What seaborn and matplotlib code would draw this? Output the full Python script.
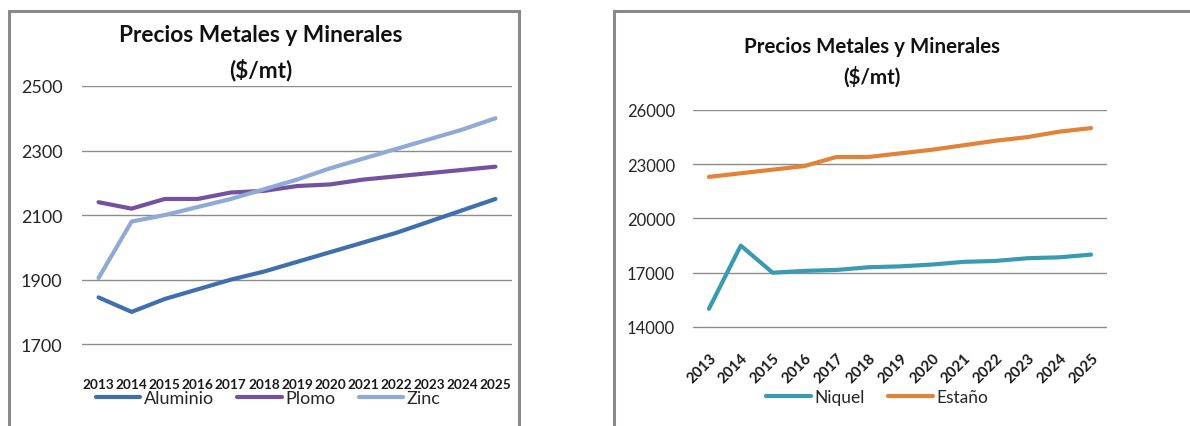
import matplotlib
matplotlib.use("Agg")
import matplotlib.pyplot as plt
from matplotlib.patches import Rectangle
from matplotlib.lines import Line2D
import seaborn as sns
import pandas as pd

years = [2013, 2014, 2015, 2016, 2017, 2018, 2019, 2020, 2021, 2022, 2023, 2024, 2025]

aluminio = [1845, 1800, 1840, 1870, 1900, 1925, 1955, 1985, 2015, 2045, 2080, 2115, 2150]
plomo = [2140, 2120, 2150, 2150, 2170, 2175, 2190, 2195, 2210, 2220, 2230, 2240, 2250]
zinc = [1905, 2080, 2100, 2125, 2150, 2180, 2210, 2245, 2275, 2305, 2335, 2365, 2400]

niquel = [15000, 18500, 17000, 17100, 17150, 17300, 17350, 17450, 17600, 17650, 17800, 17850, 18000]
estano = [22300, 22500, 22700, 22900, 23400, 23400, 23600, 23800, 24050, 24300, 24500, 24800, 25000]

left_ticks = [1700, 1900, 2100, 2300, 2500]
right_ticks = [14000, 17000, 20000, 23000, 26000]

title_text = "Precios Metales y Minerales"
unit_text = "($/mt)"

sns.set_theme(style="white")
plt.rcParams["font.family"] = ["Lato", "DejaVu Sans"]

colors_left = {"Aluminio": "#3F6FAE", "Plomo": "#7452A0", "Zinc": "#90AAD6"}
colors_right = {"Niquel": "#3A9AB2", "Estaño": "#E2833A"}

def long_frame(series):
    rows = []
    for name, vals in series.items():
        for i, (yr, v) in enumerate(zip(years, vals)):
            rows.append({"pos": i, "year": str(yr), "serie": name, "valor": v})
    return pd.DataFrame(rows)

df_left = long_frame({"Aluminio": aluminio, "Plomo": plomo, "Zinc": zinc})
df_right = long_frame({"Niquel": niquel, "Estaño": estano})

fig = plt.figure(figsize=(11.9, 4.27), dpi=100)

# panel frames
W, H = 1190, 427
border = "#8A8A8A"
fig.patches.append(Rectangle((9 / W, -0.1), (519 - 9) / W, 1 - 12 / H + 0.1,
                             transform=fig.transFigure, fill=False,
                             edgecolor=border, linewidth=2.2))
fig.patches.append(Rectangle((614 / W, -0.1), 0.6, 1 - 12 / H + 0.1,
                             transform=fig.transFigure, fill=False,
                             edgecolor=border, linewidth=2.2))

ax1 = fig.add_axes([82 / W, 56 / H, 430 / W, 284 / H])
ax2 = fig.add_axes([693 / W, 81 / H, 414 / W, 235 / H])

sns.lineplot(data=df_left, x="pos", y="valor", hue="serie", palette=colors_left,
             linewidth=3.0, ax=ax1, legend=False)
sns.lineplot(data=df_right, x="pos", y="valor", hue="serie", palette=colors_right,
             linewidth=3.0, ax=ax2, legend=False)

for ax in (ax1, ax2):
    for s in ax.spines.values():
        s.set_visible(False)
    ax.set_xlim(-0.5, len(years) - 0.5)
    ax.set_xticks(range(len(years)))
    ax.set_xlabel("")
    ax.set_ylabel("")
    ax.grid(axis="y", color="#8C8C8C", linewidth=1.0)
    ax.set_axisbelow(True)

ax1.set_ylim(1620, 2500)
ax1.set_yticks(left_ticks)
ax1.set_yticklabels([str(t) for t in left_ticks], fontsize=13)
ax1.tick_params(axis="y", length=0, pad=14)
ax1.set_xticklabels([str(y) for y in years], fontsize=9.8, fontweight="bold",
                    color="#1a1a1a")
ax1.tick_params(axis="x", length=0, pad=6)

ax2.set_ylim(13000, 26000)
ax2.set_yticks(right_ticks)
ax2.set_yticklabels([str(t) for t in right_ticks], fontsize=12)
ax2.tick_params(axis="y", length=0, pad=13)
ax2.set_xticklabels([str(y) for y in years], fontsize=10.8, fontweight="bold",
                    color="#1a1a1a", rotation=45, ha="right", rotation_mode="anchor")
ax2.tick_params(axis="x", length=0, pad=4)

h1 = [Line2D([], [], color=colors_left[k], linewidth=3.0) for k in colors_left]
ax1.legend(h1, list(colors_left), loc="center", bbox_to_anchor=(0.433, -0.1),
           ncol=3, frameon=False, fontsize=13, handlelength=2.45,
           handletextpad=0.2, columnspacing=1.3, borderpad=0, borderaxespad=0)
h2 = [Line2D([], [], color=colors_right[k], linewidth=3.0) for k in colors_right]
ax2.legend(h2, list(colors_right), loc="center", bbox_to_anchor=(0.445, -0.22),
           ncol=2, frameon=False, fontsize=12.5, handlelength=2.6,
           handletextpad=0.2, columnspacing=1.3, borderpad=0, borderaxespad=0)

fig.text(261 / W, 1 - 36 / H, title_text, ha="center", va="center",
         fontsize=16.3, fontweight="bold", color="#111111")
fig.text(261 / W, 1 - 70 / H, unit_text, ha="center", va="center",
         fontsize=16.3, fontweight="bold", color="#111111")
fig.text(872 / W, 1 - 47 / H, title_text, ha="center", va="center",
         fontsize=14.8, fontweight="bold", color="#111111")
fig.text(872 / W, 1 - 77 / H, unit_text, ha="center", va="center",
         fontsize=14.8, fontweight="bold", color="#111111")

fig.savefig("out.png", dpi=100)
